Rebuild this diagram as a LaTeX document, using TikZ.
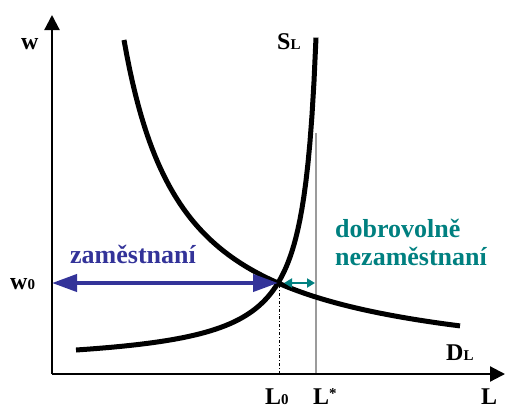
\documentclass[tikz,border=0pt]{standalone}
\usepackage{fontspec}
\setmainfont{Liberation Serif}
\usetikzlibrary{arrows.meta}
\definecolor{navyb}{RGB}{51,51,153}
\definecolor{tealc}{RGB}{0,128,128}
\definecolor{grayl}{RGB}{155,155,155}
\newcommand{\subsc}[1]{{\fontsize{15}{15}\selectfont #1}}
\begin{document}
\begin{tikzpicture}[x=1pt,y=-1pt,
  axis/.style={line width=2.2pt,-{Triangle[length=15pt,width=15pt]}},
  curve/.style={line width=5pt},
  lab/.style={font=\fontsize{24}{24}\selectfont\bfseries, inner sep=0pt, anchor=base west},
  txt/.style={font=\fontsize{26}{28}\selectfont\bfseries, inner sep=0pt, anchor=base west, align=left},
  bigarrow/.style={navyb,line width=4pt,{Triangle[length=25pt,width=17pt]}-{Triangle[length=25pt,width=17pt]}},
  smallarrow/.style={tealc,line width=2.5pt,{Triangle[length=8pt,width=9pt]}-{Triangle[length=8pt,width=9pt]}}]
\useasboundingbox (0,0) rectangle (505,410);
\coordinate (O) at (52,374);
\coordinate (Ytop) at (52,15);
\coordinate (Xend) at (505,374);
\coordinate (E) at (278,283);
\coordinate (W0) at (52,283);
\coordinate (L0b) at (279,374);
\coordinate (E2) at (279,283);
\coordinate (Ls) at (316,374);
\coordinate (Lstop) at (316,133);
\coordinate (Ea) at (284,283);
\coordinate (Lsa) at (315,283);
% reference lines
\draw[grayl,line width=2pt] (Ls) -- (Lstop);
\draw[black,line width=0.8pt,dash dot] (L0b) -- (E2);
% axes
\draw[axis] (O) -- (Ytop);
\draw[axis] (O) -- (Xend);
% curves
\draw[curve] plot[domain=124:460,samples=120] (\x,{376.1-198.3/((\x-65)/100)});
\draw[curve] plot[domain=76:316,samples=120] (\x,{366.92-42.81/((329-\x)/100)});
% arrows
\draw[bigarrow] (W0) -- (E);
\draw[smallarrow] (Ea) -- (Lsa);
% labels
\node[lab] (w) at (21,49) {w};
\node[lab] (SL) at (277,49) {S\subsc{L}};
\node[lab] (w0) at (10,289) {w\subsc{0}};
\node[lab] (DL) at (446,360) {D\subsc{L}};
\node[lab] (L0) at (265,404) {L\subsc{0}};
\node[lab] (Lstar) at (313,404) {L\raisebox{6pt}{\subsc{*}}};
\node[lab] (L) at (481,404) {L};
\node[txt,text=navyb] (zam) at (70,263) {zaměstnaní};
\node[txt,text=tealc] (dobr) at (335,265) {dobrovolně\\nezaměstnaní};
\end{tikzpicture}
\end{document}
